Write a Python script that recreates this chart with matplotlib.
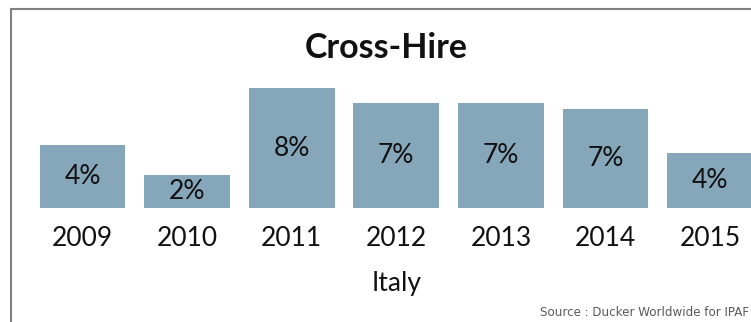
import matplotlib
matplotlib.use("Agg")
import matplotlib.pyplot as plt
from matplotlib.lines import Line2D
from matplotlib.transforms import blended_transform_factory

# Cross-hire share by year, Italy (%)
years = ["2009", "2010", "2011", "2012", "2013", "2014", "2015"]
share = [4.2, 2.2, 8.0, 7.0, 7.0, 6.6, 3.7]
country = "Italy"
title = "Cross-Hire"
source = "Source : Ducker Worldwide for IPAF"

W, H = 751, 322
DPI = 100
fig = plt.figure(figsize=(W / DPI, H / DPI), dpi=DPI)
fig.patch.set_facecolor("white")

font = ["Lato", "DejaVu Sans"]
bar_color = "#86A6B9"

# Axes spanning full width; bar baseline near y=208 px from top
base_px = 208
top_px = 10
ax = fig.add_axes([0, (H - base_px) / H, 1, (base_px - top_px) / H])
step = 104.6
first = 82.5
ax.set_xlim(-first / step, (W - first) / step)
px_per_unit = 15.0
ax.set_ylim(0, (base_px - top_px) / px_per_unit)
ax.axis("off")

x = list(range(len(years)))
bars = ax.bar(x, share, width=0.822, color=bar_color, edgecolor="none")

for xi, v in zip(x, share):
    ax.text(xi, v / 2, f"{v:.0f}%", ha="center", va="center",
            fontsize=19, family=font, color="#111111")

tr = blended_transform_factory(ax.transData, ax.transAxes)
for xi, lab in zip(x, years):
    ax.annotate(lab, xy=(xi, 0), xycoords=tr, xytext=(0, -31),
                textcoords="offset pixels", ha="center", va="center",
                fontsize=19, family=font, color="#111111")

mid = (x[0] + x[-1]) / 2
ax.annotate(country, xy=(mid, 0), xycoords=tr, xytext=(0, -75),
            textcoords="offset pixels", ha="center", va="center",
            fontsize=19, family=font, color="#111111")

fig.text(386 / W, 1 - 48 / H, title, ha="center", va="center",
         fontsize=24.5, fontweight="bold", family=font, color="#111111")

fig.text(749 / W, 1 - 313 / H, source, ha="right", va="center",
         fontsize=8.6, family=["DejaVu Sans"], color="#5a5a5a")

# Frame lines at left and top
lc = "#7f7f7f"
fig.add_artist(Line2D([11 / W, 11 / W], [0, 1 - 9 / H], transform=fig.transFigure,
                      color=lc, lw=1.5, solid_capstyle="butt"))
fig.add_artist(Line2D([10.3 / W, 1], [1 - 9 / H, 1 - 9 / H], transform=fig.transFigure,
                      color=lc, lw=1.5, solid_capstyle="butt"))

fig.savefig("out.png", dpi=DPI)
